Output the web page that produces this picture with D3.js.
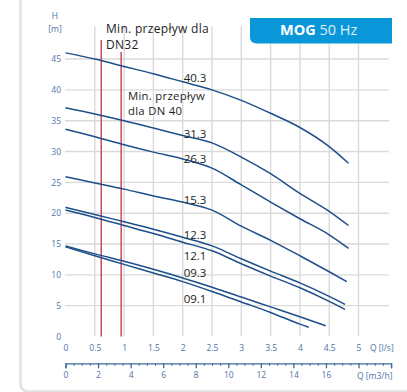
<!DOCTYPE html>
<html>
<head>
<meta charset="utf-8">
<script src="https://cdn.jsdelivr.net/npm/d3@7"></script>
<style>
  body { margin: 0; background: #fff; }
  svg { display: block; font-family: "Open Sans", sans-serif; }
</style>
</head>
<body>
<svg id="chart" width="407" height="392"></svg>
<script>
// pump curves, Q in l/s, H in m
const curveNames = ["40.3", "31.3", "26.3", "15.3", "12.3", "12.1", "09.3", "09.1"];
const flowLs = [0, 0.5, 1, 1.5, 2, 2.5, 3, 3.5, 4, 4.5];
const endFlow = [4.83, 4.83, 4.83, 4.8, 4.77, 4.77, 4.44, 4.15];

// last value of each list is the head at endFlow
const head403 = [46.0, 45.0, 43.8, 42.6, 41.3, 40.0, 38.3, 36.2, 33.9, 30.8, 28.1];
const head313 = [37.1, 36.1, 35.0, 33.8, 32.6, 31.4, 29.1, 26.4, 23.2, 20.3, 18.0];
const head263 = [33.6, 32.4, 31.1, 29.9, 28.8, 27.3, 24.6, 21.8, 19.1, 16.5, 14.3];
const head153 = [25.9, 24.9, 23.9, 22.8, 21.8, 20.5, 17.9, 15.6, 13.1, 10.5, 8.9];
const head123 = [20.95, 19.8, 18.6, 17.4, 16.1, 14.7, 12.6, 10.6, 8.7, 6.5, 5.2];
const head121 = [20.5, 19.3, 18.0, 16.7, 15.3, 13.9, 11.8, 9.8, 7.9, 5.7, 4.4];
const head093 = [14.7, 13.4, 12.2, 10.9, 9.5, 8.0, 6.4, 4.8, 3.2, 1.75];
const head091 = [14.55, 13.1, 11.7, 10.3, 8.9, 7.3, 5.6, 3.9, 2.0, 1.5];
const heads = [head403, head313, head263, head153, head123, head121, head093, head091];

const minFlow = [0.61, 0.95]; // DN32, DN40

const flowTicks = [0, 0.5, 1, 1.5, 2, 2.5, 3, 3.5, 4, 4.5, 5];
const headTicks = [0, 5, 10, 15, 20, 25, 30, 35, 40, 45];
const m3hTicks = [0, 2, 4, 6, 8, 10, 12, 14, 16, 18, 20];

// layout
const curveColor = "#1d4f8a";
const tickColor = "#4d74a6";
const gridColor = "#dadada";
const redColor = "#c94a5e";
// label baseline offset from the curve at Q = 2.4
const labelDy = [-6.5, -3.1, -3.6, -4.5, -5, 10.9, -8.6, 13.2];

const svg = d3.select("#chart");

const x = d3.scaleLinear().domain([0, 5.5]).range([65.5, 387.8]);
const y = d3.scaleLinear().domain([0, 50]).range([336.5, 28.2]);
const xm = d3.scaleLinear().domain([0, 20]).range([65.5, 65.5 + 20 * 58.6 / 3.6]);

// frame
svg.append("path")
    .attr("d", "M20.5,0V383Q20.5,391.5,29,391.5H407")
    .attr("fill", "none")
    .attr("stroke", "#e2e2e2")
    .attr("stroke-width", 2.5);

// grid
svg.append("g").selectAll("line")
    .data(headTicks.filter(d => d > 0))
    .enter().append("line")
    .attr("x1", x(0) - 0.5).attr("x2", x(5.5) + 1)
    .attr("y1", d => y(d)).attr("y2", d => y(d))
    .attr("stroke", gridColor).attr("stroke-width", 1.4);

svg.append("g").selectAll("line")
    .data(flowTicks.filter(d => d > 0))
    .enter().append("line")
    .attr("x1", d => x(d)).attr("x2", d => x(d))
    .attr("y1", y(0)).attr("y2", y(50) - 2)
    .attr("stroke", gridColor).attr("stroke-width", 1.4);

// min flow lines
const redTop = [40, 52];
svg.append("g").selectAll("line")
    .data(minFlow)
    .enter().append("line")
    .attr("x1", d => x(d)).attr("x2", d => x(d))
    .attr("y1", (d, i) => redTop[i]).attr("y2", y(0))
    .attr("stroke", redColor).attr("stroke-width", 1.5);

// curves
const line = d3.line()
    .x(d => x(d[0]))
    .y(d => y(d[1]))
    .curve(d3.curveMonotoneX);

function points(i) {
    const h = heads[i];
    const pts = h.slice(0, -1).map((v, j) => [flowLs[j], v]);
    pts.push([endFlow[i], h[h.length - 1]]);
    return pts;
}

function headAt(pts, q) {
    for (let j = 1; j < pts.length; j++) {
        if (q <= pts[j][0]) {
            const t = (q - pts[j - 1][0]) / (pts[j][0] - pts[j - 1][0]);
            return pts[j - 1][1] + t * (pts[j][1] - pts[j - 1][1]);
        }
    }
    return pts[pts.length - 1][1];
}

svg.append("g").selectAll("path")
    .data(curveNames)
    .enter().append("path")
    .attr("d", (d, i) => line(points(i)))
    .attr("fill", "none")
    .attr("stroke", curveColor)
    .attr("stroke-width", 1.5);

svg.append("g").selectAll("text")
    .data(curveNames)
    .enter().append("text")
    .attr("x", x(2.0) + 1)
    .attr("y", (d, i) => y(headAt(points(i), 2.4)) + labelDy[i])
    .attr("font-size", 11.5)
    .attr("fill", "#222")
    .text(d => d);

// axes
const fmt = d3.format("~g");

const xAxis = svg.append("g")
    .attr("transform", `translate(0,${y(0)})`)
    .call(d3.axisBottom(x).tickValues(flowTicks).tickSize(0).tickPadding(8).tickFormat(fmt));
xAxis.select(".domain").remove();
xAxis.selectAll("text").attr("fill", tickColor).attr("font-size", 8.5).attr("font-family", "Open Sans");

const yAxis = svg.append("g")
    .attr("transform", `translate(${x(0) + 0.5},0)`)
    .call(d3.axisLeft(y).tickValues(headTicks).tickSize(0).tickPadding(5));
yAxis.select(".domain").remove();
yAxis.selectAll("text").attr("fill", tickColor).attr("font-size", 8.5).attr("font-family", "Open Sans");

const mAxis = svg.append("g")
    .attr("transform", "translate(0,363.3)")
    .call(d3.axisBottom(xm).tickValues(m3hTicks).tickSize(5).tickPadding(4)
        .tickFormat(d => d <= 16 ? d : ""));
mAxis.select(".domain").attr("stroke", "#3f6a9c").attr("stroke-width", 1.3);
mAxis.selectAll(".tick line").attr("stroke", "#3f6a9c").attr("stroke-width", 1.3);
mAxis.selectAll("text").attr("fill", tickColor).attr("font-size", 8.5).attr("font-family", "Open Sans");

const minorAxis = svg.append("g")
    .attr("transform", "translate(0,363.3)")
    .call(d3.axisBottom(xm).tickValues(d3.range(0.5, 20, 0.5).filter(d => d % 2 !== 0)).tickSize(2.5).tickFormat(""));
minorAxis.select(".domain").remove();
minorAxis.selectAll(".tick line").attr("stroke", "#3f6a9c").attr("stroke-width", 1);

// axis titles
const blueText = (tx, ty, s, anchor) => svg.append("text")
    .attr("x", tx).attr("y", ty)
    .attr("text-anchor", anchor || "start")
    .attr("font-size", 8.5)
    .attr("fill", tickColor)
    .text(s);

blueText(55, 18.5, "H", "middle");
blueText(55, 31.5, "[m]", "middle");
blueText(370, 350.5, "Q [l/s]");
blueText(357, 378.5, "Q [m3/h]");

// min flow notes, two lines each
function note(tx, ty, lines, gap, size) {
    const t = svg.append("text")
        .attr("x", tx).attr("y", ty)
        .attr("font-size", size)
        .attr("letter-spacing", 0.3)
        .attr("fill", "#1e1e1e");
    lines.forEach((s, i) => {
        t.append("tspan").attr("x", tx).attr("dy", i ? gap : 0).text(s);
    });
}

note(106, 33, ["Min. przepływ dla", "DN32"], 16, 12);
note(128, 99.5, ["Min. przepływ", "dla DN 40"], 15.5, 11.3);

// title box
svg.append("path")
    .attr("d", "M250,18H392V43.5H257Q250,43.5,250,36.5Z")
    .attr("fill", "#0a97d9");

const title = svg.append("text")
    .attr("x", 280).attr("y", 34.5)
    .attr("font-size", 14.5)
    .attr("fill", "#fff");
title.append("tspan").attr("font-weight", "bold").text("MOG");
title.append("tspan").attr("fill", "#dff1fb").text(" 50 Hz");
</script>
</body>
</html>
